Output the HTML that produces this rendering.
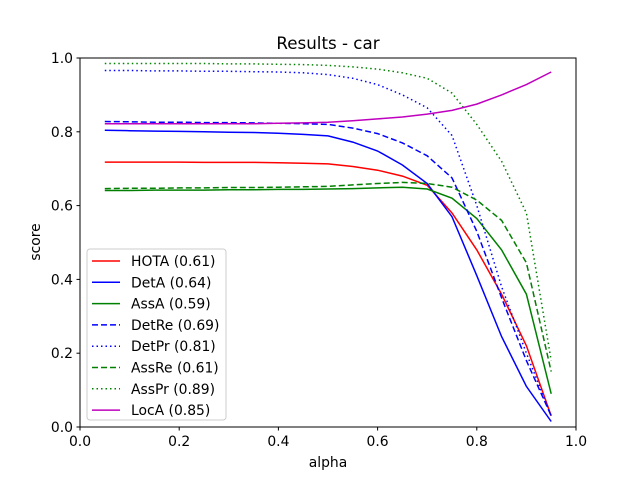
<!DOCTYPE html>
<html><head><meta charset="utf-8"><style>
body{margin:0;background:#fff;}
svg text{font-family:"DejaVu Sans","Liberation Sans",sans-serif;}
</style></head><body>
<svg id="chart" width="640" height="480" xmlns="http://www.w3.org/2000/svg">
<rect width="640" height="480" fill="#fff"/>
<text x="328" y="49" font-size="16.7" text-anchor="middle">Results - car</text>
<g id="plot"></g>
<rect x="80" y="58" width="496" height="369" fill="none" stroke="#000" stroke-width="1"/>
<text x="328" y="467" font-size="13.9" text-anchor="middle">alpha</text>
<text x="0" y="0" font-size="13.9" text-anchor="middle" transform="translate(40,242) rotate(-90)">score</text>
</svg>
<script>
const alphas=[0.05,0.1,0.15,0.2,0.25,0.3,0.35,0.4,0.45,0.5,0.55,0.6,0.65,0.7,0.75,0.8,0.85,0.9,0.95];
const hota=[0.718,0.718,0.718,0.718,0.717,0.717,0.717,0.716,0.715,0.713,0.706,0.696,0.68,0.655,0.58,0.48,0.36,0.22,0.03];
const deta=[0.804,0.803,0.802,0.801,0.8,0.799,0.798,0.796,0.793,0.789,0.772,0.748,0.71,0.66,0.57,0.41,0.245,0.11,0.015];
const assa=[0.641,0.641,0.642,0.642,0.642,0.643,0.643,0.644,0.644,0.645,0.646,0.648,0.65,0.645,0.62,0.565,0.48,0.36,0.09];
const detre=[0.828,0.827,0.826,0.826,0.825,0.825,0.824,0.823,0.822,0.82,0.81,0.795,0.77,0.735,0.675,0.53,0.35,0.18,0.03];
const detpr=[0.966,0.966,0.965,0.965,0.964,0.964,0.963,0.962,0.96,0.955,0.945,0.928,0.9,0.865,0.79,0.6,0.38,0.2,0.03];
const assre=[0.646,0.647,0.647,0.648,0.648,0.649,0.649,0.65,0.651,0.652,0.656,0.66,0.663,0.66,0.65,0.615,0.56,0.445,0.15];
const asspr=[0.985,0.985,0.985,0.985,0.985,0.984,0.984,0.983,0.982,0.98,0.976,0.97,0.96,0.945,0.905,0.82,0.72,0.58,0.18];
const loca=[0.822,0.822,0.822,0.822,0.822,0.822,0.822,0.823,0.824,0.826,0.83,0.835,0.84,0.848,0.858,0.875,0.9,0.928,0.962];
const xTicks=["0.0","0.2","0.4","0.6","0.8","1.0"];
const yTicks=["0.0","0.2","0.4","0.6","0.8","1.0"];
const seriesNames=["HOTA (0.61)","DetA (0.64)","AssA (0.59)","DetRe (0.69)","DetPr (0.81)","AssRe (0.61)","AssPr (0.89)","LocA (0.85)"];
const seriesData=[hota,deta,assa,detre,detpr,assre,asspr,loca];
const colors=["#ff0000","#0000ff","#008000","#0000ff","#0000ff","#008000","#008000","#bf00bf"];
const dashes=["","","","6,3","1.5,3","6,3","1.5,3",""];
const NS="http://www.w3.org/2000/svg";
const X=v=>80+v*496, Y=v=>427-v*369;
const g=document.getElementById('plot');
function mk(t,a){const e=document.createElementNS(NS,t);for(const k in a)e.setAttribute(k,a[k]);return e;}
xTicks.forEach(t=>{const v=parseFloat(t);
 const l=mk('line',{x1:X(v),x2:X(v),y1:427,y2:430.5,stroke:'#000'});
 
 g.appendChild(l);
 const tx=mk('text',{x:X(v),y:446,'font-size':13.9,'text-anchor':'middle'});tx.textContent=t;
 
 g.appendChild(tx);});
yTicks.forEach(t=>{const v=parseFloat(t);
 const l=mk('line',{x1:76.5,x2:80,y1:Y(v),y2:Y(v),stroke:'#000'});
 
 g.appendChild(l);
 const tx=mk('text',{x:73,y:Y(v)+5,'font-size':13.9,'text-anchor':'end'});tx.textContent=t;
 
 g.appendChild(tx);});
seriesData.forEach((d,i)=>{
 const pts=d.map((v,j)=>X(alphas[j]).toFixed(1)+','+Y(v).toFixed(1)).join(' ');
 const p=mk('polyline',{points:pts,fill:'none',stroke:colors[i],'stroke-width':1.5});
 if(dashes[i])p.setAttribute('stroke-dasharray',dashes[i]);
 
 
 g.appendChild(p);});
const lg=mk('g',{});


lg.appendChild(mk('rect',{x:87,y:249,width:139,height:171,rx:3,fill:'#fff','fill-opacity':0.8,stroke:'#ccc'}));
seriesNames.forEach((n,i)=>{
 const yy=261+i*21.3;
 const e=mk('g',{});
 
 
 const l=mk('line',{x1:92,x2:120,y1:yy,y2:yy,stroke:colors[i],'stroke-width':1.5});
 if(dashes[i])l.setAttribute('stroke-dasharray',dashes[i]);
 e.appendChild(l);
 const t=mk('text',{x:131,y:yy+5,'font-size':13.9});t.textContent=n;e.appendChild(t);
 lg.appendChild(e);});
g.appendChild(lg);
</script>
</body></html>
